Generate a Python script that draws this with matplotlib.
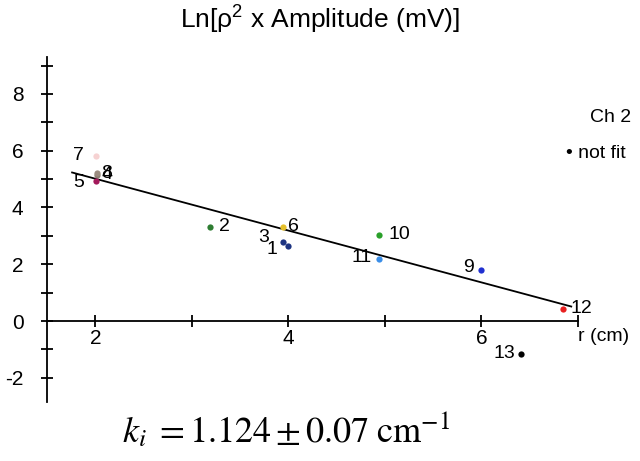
import matplotlib
matplotlib.use('Agg')
import matplotlib.pyplot as plt
from matplotlib.ticker import MultipleLocator, FuncFormatter

plt.rcParams['font.family'] = ['Liberation Sans', 'DejaVu Sans']
plt.rcParams['mathtext.fontset'] = 'custom'
plt.rcParams['mathtext.rm'] = 'Liberation Sans'
plt.rcParams['mathtext.it'] = 'Liberation Sans:italic'

# channel measurements: distance r (cm) and Ln[rho^2 x amplitude]
channels = ['1', '2', '3', '4', '5', '6', '7', '8', '9', '10', '11', '12', '13']
r_cm = [4.00, 3.19, 3.94, 2.02, 2.01, 3.94, 2.01, 2.02, 6.00, 4.94, 4.94, 6.84, 6.41]
ln_amp = [2.66, 3.33, 2.80, 5.15, 4.92, 3.33, 5.83, 5.20, 1.81, 3.02, 2.19, 0.44, -1.15]
colors = ['#1d3482', '#2e7d32', '#1d3482', '#8c7f72', '#a3195b', '#e6c02a', '#f6d2d2',
          '#9a8c80', '#2030d0', '#2aa02a', '#3a8ee8', '#e82020', '#000000']

# linear fit (channel 13 excluded)
fit_slope = -0.913
fit_intercept = 6.84
fit_range = [1.76, 6.93]

# label offsets in pixels (dx, dy) and alignment
label_pos = [(-11, -4, 'right'), (9, 0, 'left'), (-13, 4, 'right'), (4, 0, 'left'),
             (-12, -1, 'right'), (5, 0, 'left'), (-12, 0, 'right'), (4, 0, 'left'),
             (-8, 2, 'right'), (9, 1, 'left'), (-7, 1, 'right'), (8, 0, 'left'),
             (-6, 0, 'right')]

fig = plt.figure(figsize=(6.4, 4.61), dpi=100)
ax = fig.add_axes([47 / 640, 1 - 402 / 461, 531 / 640, 345 / 461])

fx = fit_range
fy = [fit_slope * v + fit_intercept for v in fx]
ax.plot(fx, fy, color='black', lw=1.3, zorder=2)

for i, ch in enumerate(channels):
    ax.plot(r_cm[i], ln_amp[i], 'o', color=colors[i], ms=4.5, mec='none', zorder=3)
    dx, dy, ha = label_pos[i]
    ax.annotate(ch, (r_cm[i], ln_amp[i]), xytext=(dx * 0.72, dy * 0.72),
                textcoords='offset points', ha=ha, va='center', fontsize=14, zorder=4)

ax.set_xlim(1.5, 7.0)
ax.set_ylim(-2.85, 9.3)

for s in ['top', 'right']:
    ax.spines[s].set_visible(False)
ax.spines['bottom'].set_position(('data', 0))
ax.spines['left'].set_linewidth(1.3)
ax.spines['bottom'].set_linewidth(1.3)

ax.xaxis.set_major_locator(MultipleLocator(1))
ax.yaxis.set_major_locator(MultipleLocator(1))
ax.xaxis.set_major_formatter(FuncFormatter(lambda v, p: '%d' % v if round(v) % 2 == 0 and v < 6.5 else ''))
ax.yaxis.set_major_formatter(FuncFormatter(lambda v, p: '%d' % v if round(v) % 2 == 0 else ''))
ax.tick_params(direction='inout', length=8, width=1.3, labelsize=15)
ax.tick_params(axis='y', pad=13)
ax.tick_params(axis='x', pad=2)

fig.text(0.5, 1 - 20 / 461, 'Ln[ρ$^2$ x Amplitude (mV)]', ha='center', va='center', fontsize=19)
fig.text(578 / 640, 1 - 336 / 461, 'r (cm)', ha='left', va='center', fontsize=14)
fig.text(611 / 640, 1 - 117 / 461, 'Ch 2', ha='center', va='center', fontsize=14)
fig.text(566 / 640, 1 - 153 / 461, '• not fit', ha='left', va='center', fontsize=14)

fig.text(286 / 640, 1 - 430 / 461, r'$k_i\;=1.124\pm0.07\;\mathrm{cm}^{-1}$',
         ha='center', va='center', fontsize=26, math_fontfamily='stix')

fig.savefig('out.png', dpi=100)
